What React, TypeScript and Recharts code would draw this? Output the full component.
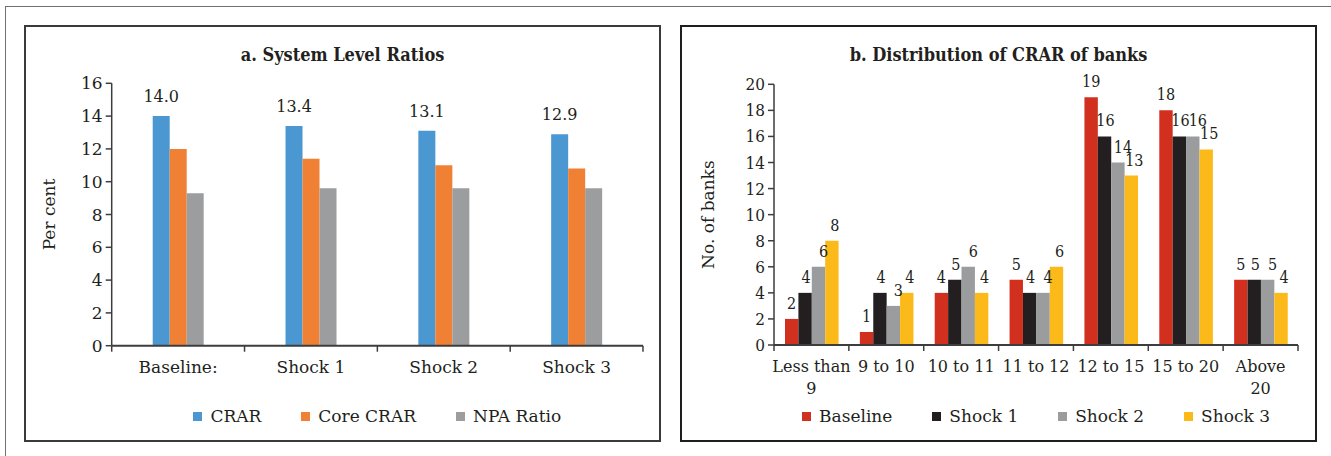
import React from "react";
import { BarChart, Bar, XAxis, YAxis, Legend, LabelList, Label } from "recharts";

// ---- a. System Level Ratios ----
const scenarios = ["Baseline:", "Shock 1", "Shock 2", "Shock 3"];
const crar = [14.0, 13.4, 13.1, 12.9];
const coreCrar = [12.0, 11.4, 11.0, 10.8];
const npaRatio = [9.3, 9.6, 9.6, 9.6];
const ratioTicks = [0, 2, 4, 6, 8, 10, 12, 14, 16];

// ---- b. Distribution of CRAR of banks ----
const crarBuckets = ["Less than 9", "9 to 10", "10 to 11", "11 to 12", "12 to 15", "15 to 20", "Above 20"];
const bucketLines = [["Less than", "9"], ["9 to 10"], ["10 to 11"], ["11 to 12"], ["12 to 15"], ["15 to 20"], ["Above", "20"]];
const baseline = [2, 1, 4, 5, 19, 18, 5];
const shock1 = [4, 4, 5, 4, 16, 16, 5];
const shock2 = [6, 3, 6, 4, 14, 16, 5];
const shock3 = [8, 4, 4, 6, 13, 15, 4];
const bankTicks = [0, 2, 4, 6, 8, 10, 12, 14, 16, 18, 20];

const ratioData = scenarios.map((name, i) => ({
  name,
  crar: crar[i],
  core: coreCrar[i],
  npa: npaRatio[i],
}));

const bankData = crarBuckets.map((name, i) => ({
  name,
  baseline: baseline[i],
  shock1: shock1[i],
  shock2: shock2[i],
  shock3: shock3[i],
}));

const FONT = "'DejaVu Serif', serif";
const COND_FONT = "'DejaVu Serif Condensed', 'DejaVu Serif', serif";
const TEXT = "#231f20";
const AXIS = "#3d3d3d";

// x-axis tick: label lines + tick marks on the band boundaries
const categoryTick = (lines: string[][], names: string[], half: number, fontSize: number) => (props: any) => {
  const { x, y, payload } = props;
  const idx = names.indexOf(payload.value);
  const isLast = idx === names.length - 1;
  return (
    <g>
      <line x1={x - half} x2={x - half} y1={y} y2={y + 6} stroke={AXIS} strokeWidth={1.5} />
      {isLast && <line x1={x + half} x2={x + half} y1={y} y2={y + 6} stroke={AXIS} strokeWidth={1.5} />}
      <text x={x} y={y + 27} textAnchor="middle" fontSize={fontSize} fontFamily={FONT} fill={TEXT}>
        {(lines[idx] || [String(payload.value)]).map((l, i) => (
          <tspan key={i} x={x} dy={i === 0 ? 0 : 22}>
            {l}
          </tspan>
        ))}
      </text>
    </g>
  );
};

const legendContent = (props: any) => (
  <div
    style={{
      display: "flex",
      justifyContent: "center",
      gap: 40,
      fontFamily: FONT,
      fontSize: 17,
      color: TEXT,
      lineHeight: "20px",
    }}
  >
    {(props.payload || []).map((p: any) => (
      <div key={p.value} style={{ display: "flex", alignItems: "center" }}>
        <span style={{ width: 9, height: 9, background: p.color, marginRight: 8, display: "inline-block" }} />
        {p.value}
      </div>
    ))}
  </div>
);

const titleStyle: React.CSSProperties = {
  position: "absolute",
  top: 44,
  textAlign: "center",
  fontFamily: COND_FONT,
  fontWeight: "bold",
  fontSize: 18,
  lineHeight: "22px",
  color: TEXT,
};

const bankSeries = [
  { key: "baseline", name: "Baseline", color: "#d2301f", dx: 0 },
  { key: "shock1", name: "Shock 1", color: "#231f20", dx: 1 },
  { key: "shock2", name: "Shock 2", color: "#9a9c9d", dx: 5 },
  { key: "shock3", name: "Shock 3", color: "#fbba19", dx: 3 },
];

export default function App() {
  return (
    <div style={{ position: "absolute", left: 0, top: 0, width: 1331, height: 456, background: "#fff", overflow: "hidden" }}>
      {/* outer frame */}
      <div style={{ position: "absolute", left: 5, top: 6, width: 1400, height: 500, borderTop: "1.5px solid #707070", borderLeft: "1.5px solid #707070" }} />
      {/* panel boxes */}
      <div style={{ position: "absolute", left: 24, top: 25, width: 637, height: 417, border: "2px solid #3a3a3a", boxSizing: "border-box" }} />
      <div style={{ position: "absolute", left: 680, top: 25, width: 637, height: 417, border: "2px solid #1e1e1e", boxSizing: "border-box" }} />

      <div style={{ ...titleStyle, left: 24, width: 637 }}>a. System Level Ratios</div>
      <div style={{ ...titleStyle, left: 680, width: 637 }}>b. Distribution of CRAR of banks</div>

      {/* a. System Level Ratios */}
      <div style={{ position: "absolute", left: 24, top: 25 }}>
        <BarChart
          width={637}
          height={416}
          data={ratioData}
          margin={{ top: 58.3, right: 18, left: 20, bottom: 65.3 }}
          barGap={0}
        >
          <XAxis
            dataKey="name"
            axisLine={{ stroke: AXIS, strokeWidth: 2 }}
            tickLine={false}
            tickSize={0}
            tickMargin={0}
            height={30}
            interval={0}
            tick={categoryTick(scenarios.map((s) => [s]), scenarios, 66.4, 17)}
          />
          <YAxis
            domain={[0, 16]}
            ticks={ratioTicks}
            width={67.7}
            axisLine={{ stroke: AXIS, strokeWidth: 1.5 }}
            tickLine={{ stroke: AXIS, strokeWidth: 1.5 }}
            tickSize={6}
            tickMargin={3}
            tick={{ fill: TEXT, fontSize: 17, fontFamily: FONT }}
          >
            <Label value="Per cent" angle={-90} position="insideLeft" offset={5} textAnchor="middle" fill={TEXT} fontSize={17} fontFamily={FONT} />
          </YAxis>
          <Legend
            verticalAlign="middle"
            align="center"
            content={legendContent}
            wrapperStyle={{ left: 87.7, width: 531.3, top: 381 }}
          />
          <Bar dataKey="crar" name="CRAR" fill="#4a97d2" barSize={17} isAnimationActive={false}>
            <LabelList
              dataKey="crar"
              position="top"
              offset={14}
              formatter={(v: any) => Number(v).toFixed(1)}
              fill={TEXT}
              fontSize={16}
              fontFamily={FONT}
            />
          </Bar>
          <Bar dataKey="core" name="Core CRAR" fill="#f08033" barSize={17} isAnimationActive={false} />
          <Bar dataKey="npa" name="NPA Ratio" fill="#9b9d9e" barSize={17} isAnimationActive={false} />
        </BarChart>
      </div>

      {/* b. Distribution of CRAR of banks */}
      <div style={{ position: "absolute", left: 680, top: 25 }}>
        <BarChart
          width={636}
          height={416}
          data={bankData}
          margin={{ top: 59.3, right: 18, left: 24, bottom: 66 }}
          barGap={0}
        >
          <XAxis
            dataKey="name"
            axisLine={{ stroke: AXIS, strokeWidth: 2 }}
            tickLine={false}
            tickSize={0}
            tickMargin={0}
            height={30}
            interval={0}
            tick={categoryTick(bucketLines, crarBuckets, 37.43, 16)}
          />
          <YAxis
            domain={[0, 20]}
            ticks={bankTicks}
            width={70}
            axisLine={{ stroke: AXIS, strokeWidth: 1.5 }}
            tickLine={{ stroke: AXIS, strokeWidth: 1.5 }}
            tickSize={6}
            tickMargin={3}
            tick={{ fill: TEXT, fontSize: 17, fontFamily: COND_FONT }}
          >
            <Label value="No. of banks" angle={-90} position="insideLeft" offset={4} textAnchor="middle" fill={TEXT} fontSize={17} fontFamily={FONT} />
          </YAxis>
          <Legend
            verticalAlign="middle"
            align="center"
            content={legendContent}
            wrapperStyle={{ left: 94, width: 524, top: 381 }}
          />
          {bankSeries.map((s) => (
            <Bar key={s.key} dataKey={s.key} name={s.name} fill={s.color} barSize={13.4} isAnimationActive={false}>
              <LabelList dataKey={s.key} position="top" offset={10} dx={s.dx} fill={TEXT} fontSize={16} fontFamily={COND_FONT} />
            </Bar>
          ))}
        </BarChart>
      </div>
    </div>
  );
}
